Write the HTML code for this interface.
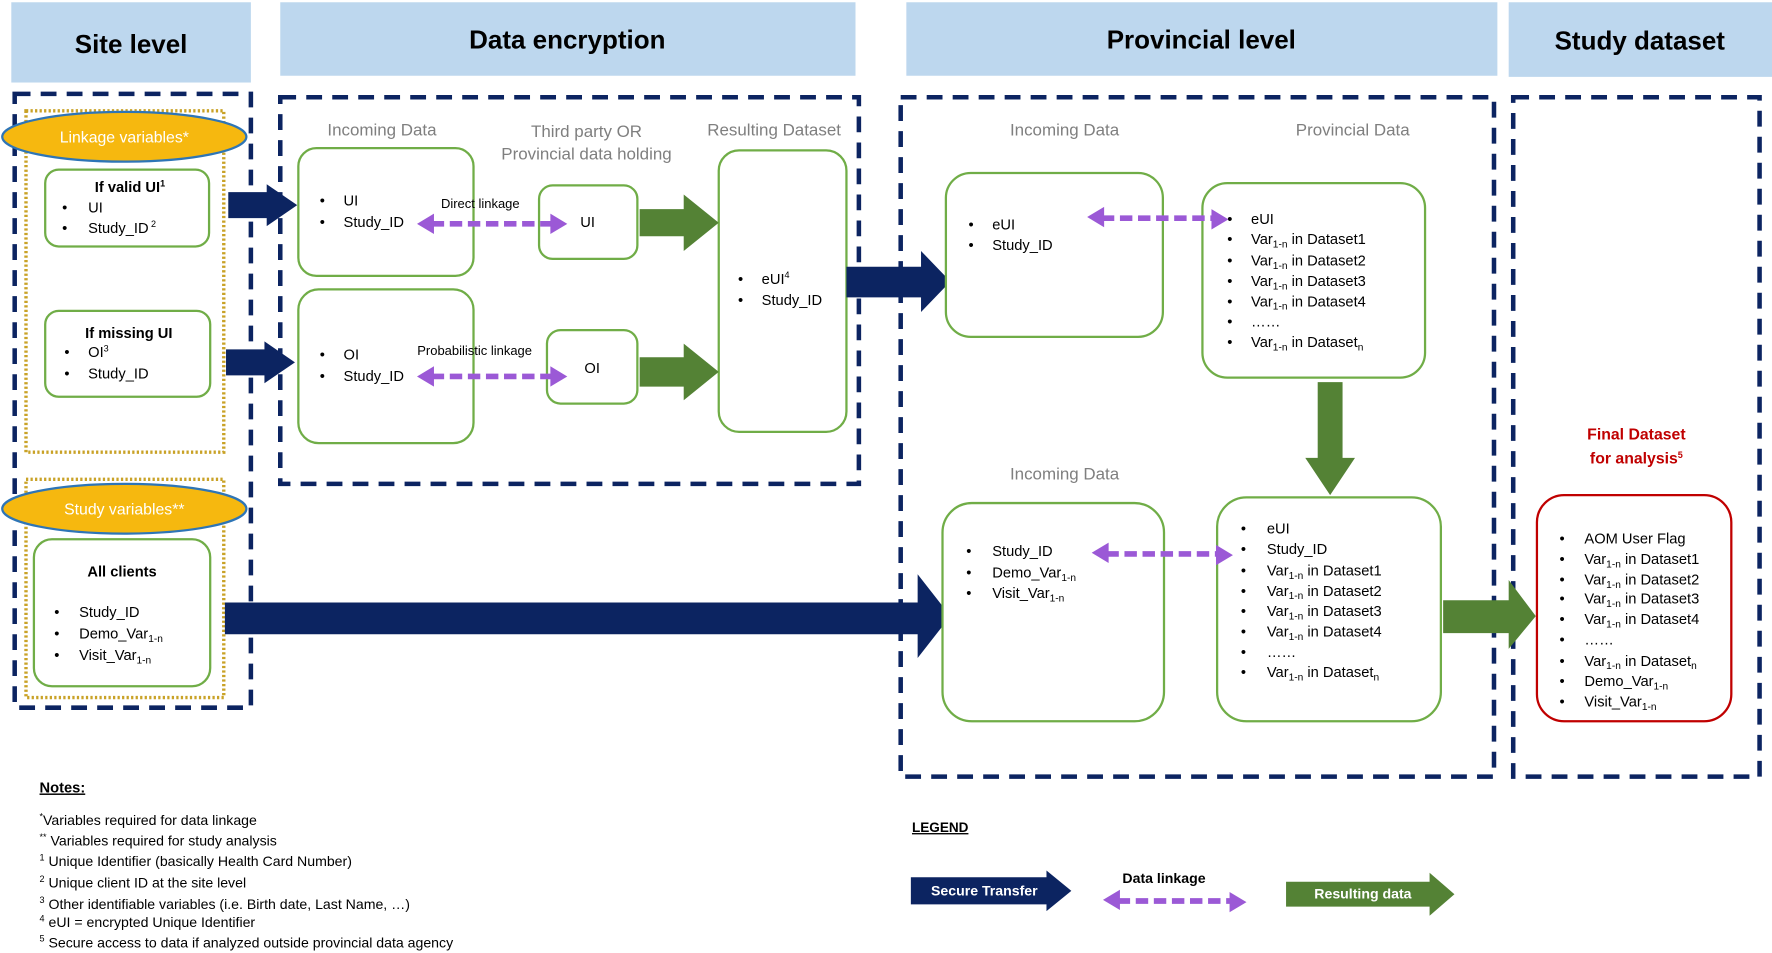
<!DOCTYPE html>
<html><head><meta charset="utf-8"><style>
html,body{margin:0;padding:0;background:#fff;}
svg{display:block;}
text{font-family:"Liberation Sans",sans-serif;}
.h{font-size:23px;font-weight:bold;fill:#000;text-anchor:middle;}
.g{font-size:15px;fill:#7f7f7f;text-anchor:middle;}
.t{font-size:13px;fill:#000;}
.b{font-size:13px;font-weight:bold;fill:#000;text-anchor:middle;}
.s{font-size:11.5px;fill:#000;}
.n{font-size:12.5px;fill:#000;}
.box{fill:#fff;stroke:#70ad47;stroke-width:2;}
.dash{fill:none;stroke:#0c2461;stroke-width:4;stroke-dasharray:14 9;}
.dot{fill:none;stroke:#c9a227;stroke-width:3;stroke-dasharray:2 2;}
.pl{stroke:#9b59d6;stroke-width:5;stroke-dasharray:11 5;fill:none;}
.ph{fill:#9b59d6;}
.navy{fill:#0c2461;}
.grn{fill:#548235;}
</style></head><body>
<svg width="1772" height="953" viewBox="0 0 1568 843" preserveAspectRatio="none" xmlns="http://www.w3.org/2000/svg">
<!-- headers -->
<rect x="10" y="2" width="212" height="71" fill="#bdd7ee"/>
<rect x="248" y="2" width="509" height="65" fill="#bdd7ee"/>
<rect x="802" y="2" width="523" height="65" fill="#bdd7ee"/>
<rect x="1335" y="2" width="233" height="66" fill="#bdd7ee"/>
<text class="h" x="116" y="47">Site level</text>
<text class="h" x="502" y="43">Data encryption</text>
<text class="h" x="1063" y="43">Provincial level</text>
<text class="h" x="1451" y="44">Study dataset</text>

<!-- dashed regions -->
<rect class="dash" x="13" y="83" width="209" height="543"/>
<rect class="dash" x="248" y="86" width="512" height="342"/>
<rect class="dash" x="797" y="86" width="525" height="601"/>
<rect class="dash" x="1339" y="86" width="218" height="601"/>

<!-- yellow dotted -->
<rect class="dot" x="23" y="98" width="175" height="302"/>
<rect class="dot" x="23" y="424" width="175" height="193"/>
<ellipse cx="110" cy="121" rx="108" ry="22" fill="#f6b80f" stroke="#2e75b6" stroke-width="2"/>
<text x="110" y="126" font-size="14" fill="#fff" text-anchor="middle">Linkage variables*</text>
<ellipse cx="110" cy="450" rx="108" ry="22" fill="#f6b80f" stroke="#2e75b6" stroke-width="2"/>
<text x="110" y="455" font-size="14" fill="#fff" text-anchor="middle">Study variables**</text>

<!-- site boxes -->
<rect class="box" x="40" y="150" width="145" height="68" rx="12"/>
<text class="b" x="115" y="170">If valid UI<tspan font-size="8" dy="-5">1</tspan></text>
<text class="t" x="55" y="188">•</text><text class="t" x="78" y="188">UI</text>
<text class="t" x="55" y="206">•</text><text class="t" x="78" y="206">Study_ID<tspan font-size="8" dy="-5"> 2</tspan></text>

<rect class="box" x="40" y="275" width="146" height="76" rx="12"/>
<text class="b" x="114" y="299">If missing UI</text>
<text class="t" x="57" y="316">•</text><text class="t" x="78" y="316">OI<tspan font-size="8" dy="-5">3</tspan></text>
<text class="t" x="57" y="335">•</text><text class="t" x="78" y="335">Study_ID</text>

<rect class="box" x="30" y="477" width="156" height="130" rx="16"/>
<text class="b" x="108" y="510">All clients</text>
<text class="t" x="48" y="546">•</text><text class="t" x="70" y="546">Study_ID</text>
<text class="t" x="48" y="565">•</text><text class="t" x="70" y="565">Demo_Var<tspan font-size="9" dy="3">1-n</tspan></text>
<text class="t" x="48" y="584">•</text><text class="t" x="70" y="584">Visit_Var<tspan font-size="9" dy="3">1-n</tspan></text>

<!-- data encryption -->
<text class="g" x="338" y="120">Incoming Data</text>
<text class="g" x="519" y="121">Third party OR</text>
<text class="g" x="519" y="141">Provincial data holding</text>
<text class="g" x="685" y="120">Resulting Dataset</text>
<rect class="box" x="264" y="131" width="155" height="113" rx="16"/>
<text class="t" x="283" y="182">•</text><text class="t" x="304" y="182">UI</text>
<text class="t" x="283" y="201">•</text><text class="t" x="304" y="201">Study_ID</text>
<rect class="box" x="264" y="256" width="155" height="136" rx="18"/>
<text class="t" x="283" y="318">•</text><text class="t" x="304" y="318">OI</text>
<text class="t" x="283" y="337">•</text><text class="t" x="304" y="337">Study_ID</text>
<rect class="box" x="477" y="164" width="87" height="65" rx="12"/>
<text class="t" x="520" y="201" text-anchor="middle">UI</text>
<rect class="box" x="484" y="292" width="80" height="65" rx="12"/>
<text class="t" x="524" y="330" text-anchor="middle">OI</text>
<rect class="box" x="636" y="133" width="113" height="249" rx="18"/>
<text class="t" x="653" y="251">•</text><text class="t" x="674" y="251">eUI<tspan font-size="8" dy="-5">4</tspan></text>
<text class="t" x="653" y="270">•</text><text class="t" x="674" y="270">Study_ID</text>

<text class="s" x="425" y="184" text-anchor="middle">Direct linkage</text>
<text class="s" x="420" y="314" text-anchor="middle">Probabilistic linkage</text>
<line class="pl" x1="382" y1="198" x2="490" y2="198"/>
<polygon class="ph" points="369,198 384,189 384,207"/><polygon class="ph" points="502,198 487,189 487,207"/>
<line class="pl" x1="382" y1="333" x2="490" y2="333"/>
<polygon class="ph" points="369,333 384,324 384,342"/><polygon class="ph" points="502,333 487,324 487,342"/>

<!-- arrows -->
<polygon class="navy" points="202,170 236,170 236,163 263,181.5 236,200 236,193 202,193"/>
<polygon class="navy" points="200,309 234,309 234,302 261,320.5 234,339 234,332 200,332"/>
<polygon class="grn" points="566,185 605,185 605,172 636,197 605,222 605,209 566,209"/>
<polygon class="grn" points="566,316 605,316 605,304 636,329 605,354 605,342 566,342"/>
<polygon class="navy" points="749,236 815,236 815,222 841,249 815,276 815,263 749,263"/>
<polygon class="navy" points="199,533 812,533 812,508 841,545 812,582 812,561 199,561"/>
<polygon class="grn" points="1166,338 1188,338 1188,405 1199,405 1177,438 1155,405 1166,405"/>
<polygon class="grn" points="1277,531 1335,531 1335,513 1359,545 1335,574 1335,560 1277,560"/>

<!-- provincial -->
<text class="g" x="942" y="120">Incoming Data</text>
<text class="g" x="1197" y="120">Provincial Data</text>
<rect class="box" x="837" y="153" width="192" height="145" rx="22"/>
<text class="t" x="857" y="203">•</text><text class="t" x="878" y="203">eUI</text>
<text class="t" x="857" y="221">•</text><text class="t" x="878" y="221">Study_ID</text>
<rect class="box" x="1064" y="162" width="197" height="172" rx="22"/>
<g class="t">
<text x="1086" y="198">•</text><text x="1107" y="198">eUI</text>
<text x="1086" y="216">•</text><text x="1107" y="216">Var<tspan font-size="9" dy="3">1-n</tspan><tspan dy="-3"> in Dataset1</tspan></text>
<text x="1086" y="235">•</text><text x="1107" y="235">Var<tspan font-size="9" dy="3">1-n</tspan><tspan dy="-3"> in Dataset2</tspan></text>
<text x="1086" y="253">•</text><text x="1107" y="253">Var<tspan font-size="9" dy="3">1-n</tspan><tspan dy="-3"> in Dataset3</tspan></text>
<text x="1086" y="271">•</text><text x="1107" y="271">Var<tspan font-size="9" dy="3">1-n</tspan><tspan dy="-3"> in Dataset4</tspan></text>
<text x="1086" y="289">•</text><text x="1107" y="289">……</text>
<text x="1086" y="307">•</text><text x="1107" y="307">Var<tspan font-size="9" dy="3">1-n</tspan><tspan dy="-3"> in Dataset</tspan><tspan font-size="9" dy="3">n</tspan></text>
</g>
<line class="pl" x1="975" y1="193" x2="1073" y2="193"/>
<polygon class="ph" points="962,192 977,183 977,201"/><polygon class="ph" points="1087,194 1072,185 1072,203"/>

<text class="g" x="942" y="424">Incoming Data</text>
<rect class="box" x="834" y="445" width="196" height="193" rx="26"/>
<g class="t">
<text x="855" y="492">•</text><text x="878" y="492">Study_ID</text>
<text x="855" y="511">•</text><text x="878" y="511">Demo_Var<tspan font-size="9" dy="3">1-n</tspan></text>
<text x="855" y="529">•</text><text x="878" y="529">Visit_Var<tspan font-size="9" dy="3">1-n</tspan></text>
</g>
<rect class="box" x="1077" y="440" width="198" height="198" rx="26"/>
<g class="t">
<text x="1098" y="472">•</text><text x="1121" y="472">eUI</text>
<text x="1098" y="490">•</text><text x="1121" y="490">Study_ID</text>
<text x="1098" y="509">•</text><text x="1121" y="509">Var<tspan font-size="9" dy="3">1-n</tspan><tspan dy="-3"> in Dataset1</tspan></text>
<text x="1098" y="527">•</text><text x="1121" y="527">Var<tspan font-size="9" dy="3">1-n</tspan><tspan dy="-3"> in Dataset2</tspan></text>
<text x="1098" y="545">•</text><text x="1121" y="545">Var<tspan font-size="9" dy="3">1-n</tspan><tspan dy="-3"> in Dataset3</tspan></text>
<text x="1098" y="563">•</text><text x="1121" y="563">Var<tspan font-size="9" dy="3">1-n</tspan><tspan dy="-3"> in Dataset4</tspan></text>
<text x="1098" y="581">•</text><text x="1121" y="581">……</text>
<text x="1098" y="599">•</text><text x="1121" y="599">Var<tspan font-size="9" dy="3">1-n</tspan><tspan dy="-3"> in Dataset</tspan><tspan font-size="9" dy="3">n</tspan></text>
</g>
<line class="pl" x1="979" y1="490" x2="1077" y2="490"/>
<polygon class="ph" points="966,489 981,480 981,498"/><polygon class="ph" points="1091,491 1076,482 1076,500"/>

<!-- final -->
<text x="1448" y="389" font-size="14" font-weight="bold" fill="#c00000" text-anchor="middle">Final Dataset</text>
<text x="1448" y="410" font-size="14" font-weight="bold" fill="#c00000" text-anchor="middle">for analysis<tspan font-size="8" dy="-5">5</tspan></text>
<rect x="1360" y="438" width="172" height="200" rx="24" fill="#fff" stroke="#c00000" stroke-width="2"/>
<g class="t">
<text x="1380" y="481">•</text><text x="1402" y="481">AOM User Flag</text>
<text x="1380" y="499">•</text><text x="1402" y="499">Var<tspan font-size="9" dy="3">1-n</tspan><tspan dy="-3"> in Dataset1</tspan></text>
<text x="1380" y="517">•</text><text x="1402" y="517">Var<tspan font-size="9" dy="3">1-n</tspan><tspan dy="-3"> in Dataset2</tspan></text>
<text x="1380" y="534">•</text><text x="1402" y="534">Var<tspan font-size="9" dy="3">1-n</tspan><tspan dy="-3"> in Dataset3</tspan></text>
<text x="1380" y="552">•</text><text x="1402" y="552">Var<tspan font-size="9" dy="3">1-n</tspan><tspan dy="-3"> in Dataset4</tspan></text>
<text x="1380" y="570">•</text><text x="1402" y="570">……</text>
<text x="1380" y="589">•</text><text x="1402" y="589">Var<tspan font-size="9" dy="3">1-n</tspan><tspan dy="-3"> in Dataset</tspan><tspan font-size="9" dy="3">n</tspan></text>
<text x="1380" y="607">•</text><text x="1402" y="607">Demo_Var<tspan font-size="9" dy="3">1-n</tspan></text>
<text x="1380" y="625">•</text><text x="1402" y="625">Visit_Var<tspan font-size="9" dy="3">1-n</tspan></text>
</g>

<!-- notes -->
<text x="35" y="701" font-size="13" font-weight="bold" text-decoration="underline">Notes:</text>
<g class="n">
<text x="35" y="730"><tspan font-size="8" dy="-5">*</tspan><tspan dy="5">Variables required for data linkage</tspan></text>
<text x="35" y="748"><tspan font-size="8" dy="-5">**</tspan><tspan dy="5"> Variables required for study analysis</tspan></text>
<text x="35" y="766"><tspan font-size="8" dy="-5">1</tspan><tspan dy="5"> Unique Identifier (basically Health Card Number)</tspan></text>
<text x="35" y="785"><tspan font-size="8" dy="-5">2</tspan><tspan dy="5"> Unique client ID at the site level</tspan></text>
<text x="35" y="804"><tspan font-size="8" dy="-5">3</tspan><tspan dy="5"> Other identifiable variables (i.e. Birth date, Last Name, …)</tspan></text>
<text x="35" y="820"><tspan font-size="8" dy="-5">4</tspan><tspan dy="5"> eUI = encrypted Unique Identifier</tspan></text>
<text x="35" y="838"><tspan font-size="8" dy="-5">5</tspan><tspan dy="5"> Secure access to data if analyzed outside provincial data agency</tspan></text>
</g>

<!-- legend -->
<text x="807" y="736" font-size="12" font-weight="bold" text-decoration="underline">LEGEND</text>
<polygon class="navy" points="806,776 926,776 926,770 948,788 926,806 926,800 806,800"/>
<text x="871" y="792" font-size="12.5" font-weight="bold" fill="#fff" text-anchor="middle">Secure Transfer</text>
<text x="1030" y="781" font-size="12.5" font-weight="bold" text-anchor="middle">Data linkage</text>
<line class="pl" x1="989" y1="797" x2="1090" y2="797"/>
<polygon class="ph" points="976,796 991,787 991,805"/><polygon class="ph" points="1103,798 1088,789 1088,807"/>
<polygon class="grn" points="1138,780 1265,780 1265,772 1287,791 1265,810 1265,802 1138,802"/>
<text x="1206" y="795" font-size="12.5" font-weight="bold" fill="#fff" text-anchor="middle">Resulting data</text>
</svg>
</body></html>
